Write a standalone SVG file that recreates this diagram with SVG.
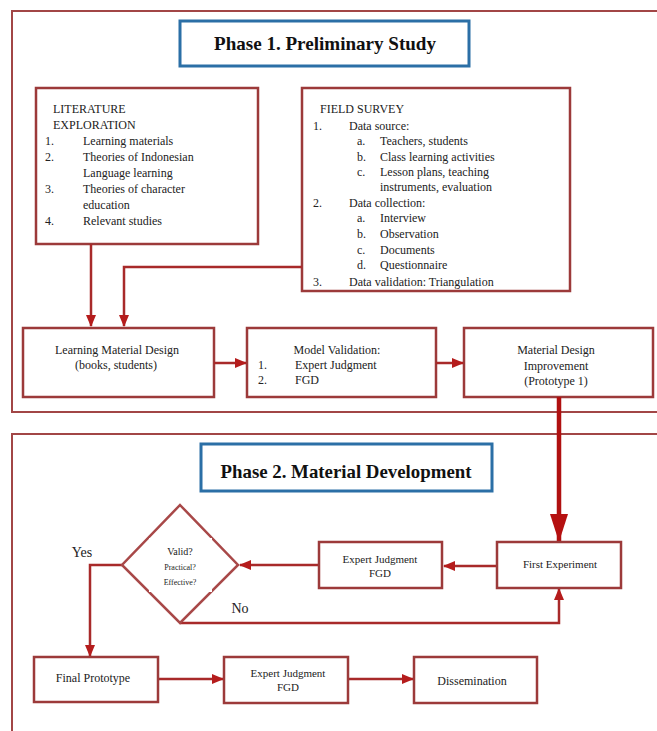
<svg xmlns="http://www.w3.org/2000/svg" width="657" height="731" viewBox="0 0 657 731">
<style>
.frame{fill:none;stroke:#a24646;stroke-width:2}
.box{fill:#fff;stroke:#9c3a3a;stroke-width:2.5}
.title{fill:#fff;stroke:#2b6fa6;stroke-width:3}
.conn{fill:none;stroke:#a82a2a;stroke-width:2.5}
.t{font-family:'Liberation Serif','DejaVu Serif','Times New Roman',serif;font-size:12px;fill:#222}
.c{text-anchor:middle}
.h{font-family:'Liberation Serif','DejaVu Serif','Times New Roman',serif;font-weight:bold;font-size:19px;fill:#111;text-anchor:middle}
</style>
<defs>
<marker id="ah" markerUnits="userSpaceOnUse" markerWidth="12" markerHeight="10" refX="11" refY="5" orient="auto">
<path d="M0,0 L12,5 L0,10 Z" fill="#b51c1c"/>
</marker>
<marker id="big" markerUnits="userSpaceOnUse" markerWidth="28" markerHeight="18" refX="27" refY="9" orient="auto">
<path d="M0,0 L28,9 L0,18 Z" fill="#b51010"/>
</marker>
</defs>
<rect width="657" height="731" fill="#fff"/>

<g id="phase1-frame"><rect class="frame" x="12" y="11" width="700" height="401"/></g>
<g id="phase2-frame"><rect class="frame" x="12" y="434" width="700" height="400"/></g>

<g id="title1">
<rect class="title" x="180" y="21" width="289" height="45"/>
<text class="h" x="325" y="50" textLength="222" lengthAdjust="spacingAndGlyphs">Phase 1. Preliminary Study</text>
</g>

<g id="literature">
<rect class="box" x="36" y="88" width="222" height="156"/>
<text class="t" x="53" y="113">LITERATURE</text>
<text class="t" x="53" y="129">EXPLORATION</text>
<text class="t" x="45" y="145">1.</text><text class="t" x="83" y="145">Learning materials</text>
<text class="t" x="45" y="161">2.</text><text class="t" x="83" y="161">Theories of Indonesian</text>
<text class="t" x="83" y="177">Language learning</text>
<text class="t" x="45" y="193">3.</text><text class="t" x="83" y="193">Theories of character</text>
<text class="t" x="83" y="209">education</text>
<text class="t" x="45" y="225">4.</text><text class="t" x="83" y="225">Relevant studies</text>
</g>

<g id="field-survey">
<rect class="box" x="302" y="88" width="268" height="203"/>
<text class="t" x="320" y="113">FIELD SURVEY</text>
<text class="t" x="313" y="130">1.</text><text class="t" x="349" y="130">Data source:</text>
<text class="t" x="357" y="145">a.</text><text class="t" x="380" y="145">Teachers, students</text>
<text class="t" x="357" y="161">b.</text><text class="t" x="380" y="161">Class learning activities</text>
<text class="t" x="357" y="176">c.</text><text class="t" x="380" y="176">Lesson plans, teaching</text>
<text class="t" x="380" y="191">instruments, evaluation</text>
<text class="t" x="313" y="207">2.</text><text class="t" x="349" y="207">Data collection:</text>
<text class="t" x="357" y="222">a.</text><text class="t" x="380" y="222">Interview</text>
<text class="t" x="357" y="238">b.</text><text class="t" x="380" y="238">Observation</text>
<text class="t" x="357" y="254">c.</text><text class="t" x="380" y="254">Documents</text>
<text class="t" x="357" y="269">d.</text><text class="t" x="380" y="269">Questionnaire</text>
<text class="t" x="313" y="286">3.</text><text class="t" x="349" y="286">Data validation: Triangulation</text>
</g>

<g id="learning-material-design">
<rect class="box" x="23" y="328" width="191" height="69"/>
<text class="t c" x="117" y="354">Learning Material Design</text>
<text class="t c" x="116" y="369">(books, students)</text>
</g>

<g id="model-validation">
<rect class="box" x="247" y="328" width="189" height="69"/>
<text class="t c" x="337" y="354">Model Validation:</text>
<text class="t" x="258" y="369">1.</text><text class="t" x="295" y="369">Expert Judgment</text>
<text class="t" x="258" y="384">2.</text><text class="t" x="295" y="384">FGD</text>
</g>

<g id="material-design-improvement">
<rect class="box" x="464" y="328" width="189" height="69"/>
<text class="t c" x="556" y="354">Material Design</text>
<text class="t c" x="556" y="370">Improvement</text>
<text class="t c" x="556" y="385">(Prototype 1)</text>
</g>

<g id="title2">
<rect class="title" x="201" y="444" width="291" height="47"/>
<text class="h" x="346" y="478" textLength="251" lengthAdjust="spacingAndGlyphs">Phase 2. Material Development</text>
</g>

<g id="connectors">
<path class="conn" d="M91,244 V326" marker-end="url(#ah)"/>
<path class="conn" d="M302,267 H124 V326" marker-end="url(#ah)"/>
<path class="conn" d="M214,363 H246" marker-end="url(#ah)"/>
<path class="conn" d="M436,363 H463" marker-end="url(#ah)"/>
<path d="M559,397 V541" fill="none" stroke="#b01010" stroke-width="4.5" marker-end="url(#big)"/>
<path class="conn" d="M497,566 H444" marker-end="url(#ah)"/>
<path class="conn" d="M319,565 H240" marker-end="url(#ah)"/>
<path class="conn" d="M180,623 H559 V589" marker-end="url(#ah)"/>
<path class="conn" d="M122,565 H90 V656" marker-end="url(#ah)"/>
<path class="conn" d="M158,679 H223" marker-end="url(#ah)"/>
<path class="conn" d="M348,679 H413" marker-end="url(#ah)"/>
</g>

<g id="decision">
<path d="M180,505 L238,565 L180,623 L122,565 Z" fill="#fff" stroke="#a84848" stroke-width="2.5"/>
<rect x="149" y="538" width="63" height="54" fill="#fff"/>
<text class="t c" x="180" y="555" style="font-size:10px">Valid?</text>
<text class="t c" x="180" y="570" style="font-size:8px">Practical?</text>
<text class="t c" x="180" y="585" style="font-size:8px">Effective?</text>
</g>

<g id="label-yes"><text class="t c" x="82" y="557" style="font-size:14px">Yes</text></g>
<g id="label-no"><rect x="215" y="593" width="52" height="28" fill="#fff"/><text class="t c" x="240" y="613" style="font-size:14px">No</text></g>

<g id="expert-judgment-1">
<rect class="box" x="319" y="542" width="123" height="46"/>
<text class="t c" x="380" y="563" style="font-size:11px">Expert Judgment</text>
<text class="t c" x="380" y="577" style="font-size:11px">FGD</text>
</g>

<g id="first-experiment">
<rect class="box" x="497" y="542" width="124" height="46"/>
<text class="t c" x="560" y="568" style="font-size:11px">First Experiment</text>
</g>

<g id="final-prototype">
<rect class="box" x="34" y="657" width="124" height="45"/>
<text class="t c" x="93" y="682">Final Prototype</text>
</g>

<g id="expert-judgment-2">
<rect class="box" x="224" y="657" width="124" height="46"/>
<text class="t c" x="288" y="677" style="font-size:11px">Expert Judgment</text>
<text class="t c" x="288" y="691" style="font-size:11px">FGD</text>
</g>

<g id="dissemination">
<rect class="box" x="414" y="657" width="123" height="46"/>
<text class="t c" x="472" y="685">Dissemination</text>
</g>
</svg>
